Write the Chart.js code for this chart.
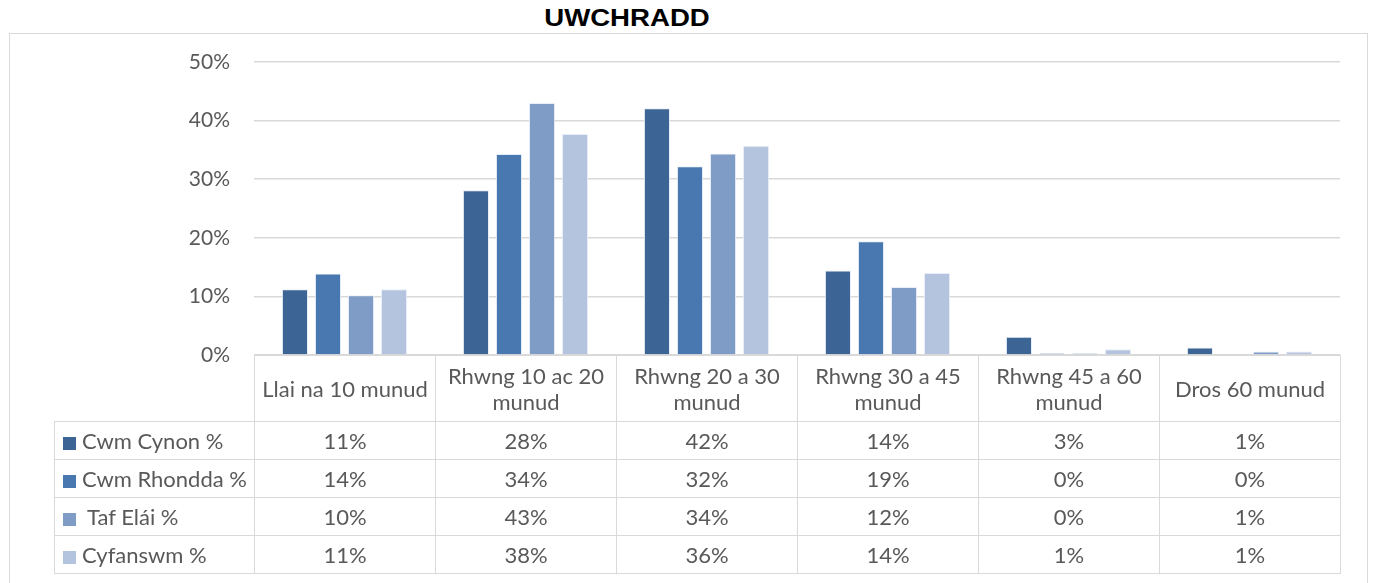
<!DOCTYPE html>
<html>
<head>
<meta charset="utf-8">
<script src="https://cdn.jsdelivr.net/npm/chart.js@4.4.1/dist/chart.umd.min.js"></script>
<style>
  html, body { margin: 0; padding: 0; background: #fff; }
  #wrap { position: relative; width: 1376px; height: 583px; overflow: hidden; }
  #frame { position: absolute; left: 9px; top: 33px; width: 1357px; height: 620px; border: 1.5px solid #d9d9d9; }
  #title { position: absolute; left: 427px; top: 5px; width: 400px; text-align: center;
    font: bold 23px "Liberation Sans", Arial, sans-serif; line-height: 26px; color: #000; }
  #title span { display: inline-block; transform: scaleX(1.2); }
  canvas { position: absolute; left: 0; top: 0; }
  #tbl { position: absolute; border-collapse: collapse; table-layout: fixed;
    font-family: Lato, sans-serif; font-size: 22px; color: #595959; }
  #tbl td { border: 1.5px solid #d9d9d9; text-align: center; padding: 0; white-space: nowrap; }
  #tbl tr.head td { height: 65px; line-height: 26px; }
  #tbl tr.row td { height: 37px; }
  #tbl td.corner { border-top: none; border-left: none; }
  #tbl td.name { text-align: left; padding-left: 8px; }
  .key { display: inline-block; width: 13px; height: 13px; margin-right: 6px; vertical-align: -1px; }
</style>
</head>
<body>
<div id="wrap">
  <div id="frame"></div>
  <div id="title"><span>UWCHRADD</span></div>
  <canvas id="chart" width="1376" height="583"></canvas>
  <table id="tbl"></table>
</div>
<script>
const categories = [
  ["Llai na 10 munud"],
  ["Rhwng 10 ac 20", "munud"],
  ["Rhwng 20 a 30", "munud"],
  ["Rhwng 30 a 45", "munud"],
  ["Rhwng 45 a 60", "munud"],
  ["Dros 60 munud"]
];
const seriesNames = ["Cwm Cynon %", "Cwm Rhondda %", " Taf Elái %", "Cyfanswm %"];
const cwmCynon = [11.2, 28.1, 42.1, 14.4, 3.1, 1.3];
const cwmRhondda = [13.9, 34.3, 32.2, 19.4, 0.3, 0];
const tafElai = [10.2, 43.0, 34.4, 11.6, 0.3, 0.6];
const cyfanswm = [11.2, 37.7, 35.7, 14.0, 1.0, 0.6];
const colors = ["#3c6494", "#4878af", "#7f9cc7", "#b5c4de"];
const yTicks = [0, 10, 20, 30, 40, 50];

const allSeries = [cwmCynon, cwmRhondda, tafElai, cyfanswm];

// table under the plot, lined up with the chart area
const placeTable = {
  id: "placeTable",
  afterLayout(chart) {
    const area = chart.chartArea;
    const tbl = document.getElementById("tbl");
    const left = 54;
    const colW = (area.right - area.left) / categories.length;
    let html = "<colgroup><col style='width:" + (area.left - left) + "px'>";
    categories.forEach(() => { html += "<col style='width:" + colW + "px'>"; });
    html += "</colgroup><tr class='head'><td class='corner'></td>";
    categories.forEach(c => { html += "<td>" + c.join("<br>") + "</td>"; });
    html += "</tr>";
    allSeries.forEach((s, i) => {
      html += "<tr class='row'><td class='name'><span class='key' style='background:" + colors[i] + "'></span>" +
        seriesNames[i].replace(/^ /, "&nbsp;") + "</td>";
      s.forEach(v => { html += "<td>" + Math.round(v) + "%</td>"; });
      html += "</tr>";
    });
    tbl.innerHTML = html;
    tbl.style.left = left + "px";
    tbl.style.top = area.bottom + "px";
    tbl.style.width = (area.right - left) + "px";
  }
};

new Chart(document.getElementById("chart"), {
  type: "bar",
  data: {
    labels: categories,
    datasets: allSeries.map((s, i) => ({
      label: seriesNames[i],
      data: s,
      backgroundColor: colors[i],
      borderColor: "rgba(230,236,246,0.9)",
      borderWidth: 1,
      categoryPercentage: 0.73,
      barPercentage: 0.79
    }))
  },
  options: {
    responsive: false,
    animation: false,
    layout: { padding: { left: 0, top: 62, right: 36, bottom: 228 } },
    plugins: { legend: { display: false }, tooltip: { enabled: false } },
    scales: {
      x: { display: false },
      y: {
        min: 0,
        max: 50,
        afterFit(scale) { scale.width = 254; },
        afterBuildTicks(scale) { scale.ticks = yTicks.map(v => ({ value: v })); },
        border: { display: false },
        grid: { color: "#d9d9d9", lineWidth: 1.5, drawTicks: false },
        ticks: {
          padding: 24,
          color: "#595959",
          font: { family: "Lato", size: 21 },
          callback: v => v + "%"
        }
      }
    }
  },
  plugins: [placeTable]
});
</script>
</body>
</html>
